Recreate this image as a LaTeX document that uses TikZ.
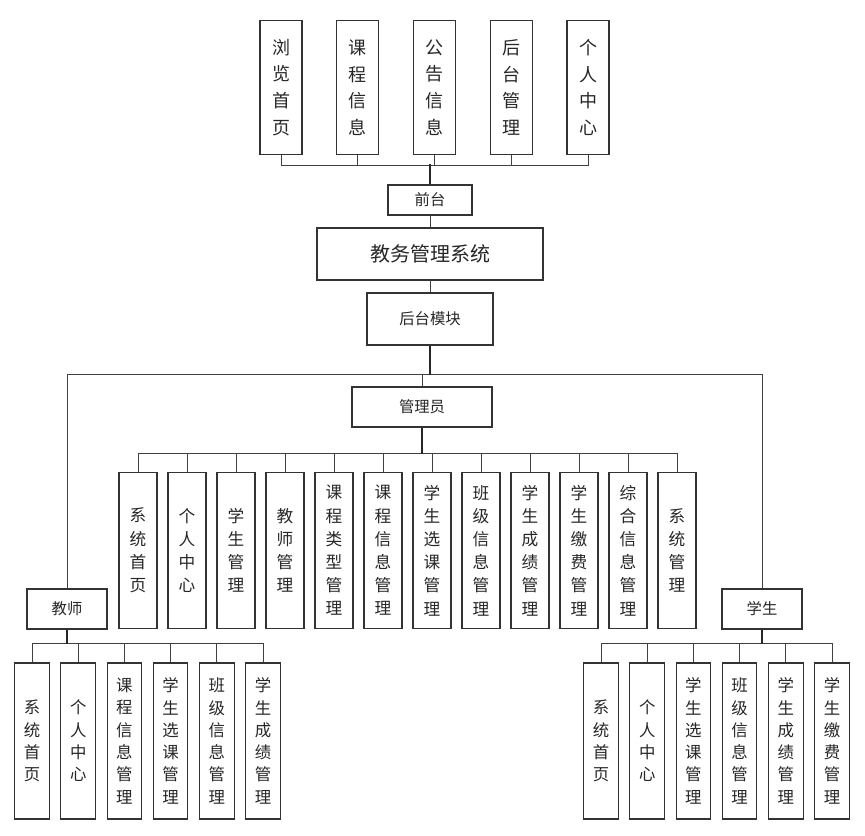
\documentclass[tikz,border=0pt]{standalone}
\usepackage{fontspec}
\setmainfont{Noto Sans CJK SC}
\usetikzlibrary{positioning}
\tikzset{
  box/.style={draw=black!80, line width=0.8pt, inner sep=0pt, align=center, text=black!85},
  hbox/.style={box, font=\fontsize{11.5}{14}\selectfont},
  topbox/.style={box, minimum width=31.5pt, minimum height=101pt, font=\fontsize{13.5}{20}\selectfont},
  admbox/.style={box, minimum width=28.5pt, minimum height=117.5pt, font=\fontsize{12.5}{17.4}\selectfont},
  subbox/.style={box, minimum width=26pt, minimum height=117pt, font=\fontsize{12.3}{16.7}\selectfont},
  link/.style={draw=black!75, line width=0.6pt},
  stem/.style={draw=black!85, line width=1.1pt}
}
\begin{document}
\begin{tikzpicture}[x=0.75pt,y=-0.75pt]
\useasboundingbox (0,0) rectangle (865,836);
% front end
\foreach \t [count=\i] in {浏\\览\\首\\页, 课\\程\\信\\息, 公\\告\\信\\息, 后\\台\\管\\理, 个\\人\\中\\心}
  \node[topbox] (t\i) at ({281+76.75*(\i-1)},87.5) {\t};
\node[hbox, minimum width=63pt, minimum height=22.5pt] (qt) at (430,200) {前台};
\node[box, minimum width=169.5pt, minimum height=39pt, font=\fontsize{15}{18}\selectfont] (xt) at (430,254) {教务管理系统};
\node[hbox, minimum width=94.5pt, minimum height=39pt] (hm) at (430,319) {后台模块};
\foreach \i in {1,...,5}
  \draw[link] (t\i.south) -- ++(0,10) -| (qt.north);
\draw[stem] (qt.north) -- ++(0,-20);
\draw[link] (qt.south) -- (xt.north);
\draw[link] (xt.south) -- (hm.north);
% roles
\node[hbox, minimum width=105pt, minimum height=30pt] (gly) at (422,407) {管理员};
\node[hbox, minimum width=60pt, minimum height=30pt] (js) at (67,609) {教师};
\node[hbox, minimum width=60pt, minimum height=30pt] (xs) at (762,609) {学生};
\draw[link] (hm.south) -- ++(0,29) -| (gly.north);
\draw[link] (hm.south) -- ++(0,29) -| (js.north);
\draw[link] (hm.south) -- ++(0,29) -| (xs.north);
\draw[stem] (hm.south) -- ++(0,29);
% admin modules
\foreach \t [count=\i] in {系\\统\\首\\页, 个\\人\\中\\心, 学\\生\\管\\理, 教\\师\\管\\理,
    课\\程\\类\\型\\管\\理, 课\\程\\信\\息\\管\\理, 学\\生\\选\\课\\管\\理, 班\\级\\信\\息\\管\\理,
    学\\生\\成\\绩\\管\\理, 学\\生\\缴\\费\\管\\理, 综\\合\\信\\息\\管\\理, 系\\统\\管\\理}
  \node[admbox] (a\i) at ({138+49*(\i-1)},550.5) {\t};
\foreach \i in {1,...,12}
  \draw[link] (gly.south) -- ++(0,26) -| (a\i.north);
\draw[stem] (gly.south) -- ++(0,26);
% teacher modules
\foreach \t [count=\i] in {系\\统\\首\\页, 个\\人\\中\\心, 课\\程\\信\\息\\管\\理,
    学\\生\\选\\课\\管\\理, 班\\级\\信\\息\\管\\理, 学\\生\\成\\绩\\管\\理}
  \node[subbox] (j\i) at ({32+46.2*(\i-1)},741) {\t};
\foreach \i in {1,...,6}
  \draw[link] (js.south) -- ++(0,14) -| (j\i.north);
\draw[stem] (js.south) -- ++(0,14);
% student modules
\foreach \t [count=\i] in {系\\统\\首\\页, 个\\人\\中\\心, 学\\生\\选\\课\\管\\理,
    班\\级\\信\\息\\管\\理, 学\\生\\成\\绩\\管\\理, 学\\生\\缴\\费\\管\\理}
  \node[subbox] (s\i) at ({601+46.2*(\i-1)},741) {\t};
\foreach \i in {1,...,6}
  \draw[link] (xs.south) -- ++(0,14) -| (s\i.north);
\draw[stem] (xs.south) -- ++(0,14);
\end{tikzpicture}
\end{document}
